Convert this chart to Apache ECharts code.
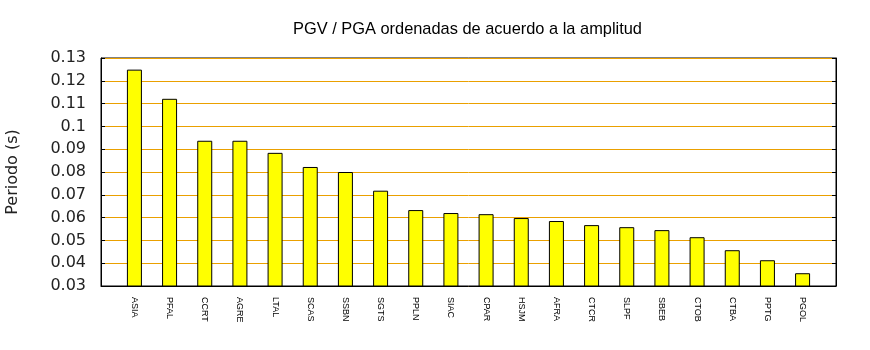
<!DOCTYPE html>
<html>
<head>
<meta charset="utf-8">
<script src="https://cdn.jsdelivr.net/npm/echarts@6/dist/echarts.min.js"></script>
<style>html,body{margin:0;padding:0;background:#fff}#c{width:870px;height:350px}</style>
</head>
<body>
<div id="c"></div>
<script>
const categoryNames = ['ASIA','PFAL','CCRT','AGRE','LTAL','SCAS','SSBN','SGTS','PPLN','SIAC','CPAR','HSJM','AFRA','CTCR','SLPF','SBEB','CTOB','CTBA','PPTG','PGOL'];
const values = [0.1249,0.1121,0.0937,0.0937,0.0884,0.0822,0.0800,0.0718,0.0633,0.0620,0.0615,0.0598,0.0585,0.0567,0.0558,0.0545,0.0514,0.0457,0.0413,0.0356];

const chart = echarts.init(document.getElementById('c'), null, {renderer:'canvas'});
const idx = categoryNames.map((_, i) => i);
chart.setOption({
  animation: false,
  backgroundColor: '#fff',
  title: {
    text: 'PGV / PGA ordenadas de acuerdo a la amplitud',
    left: 288, top: 16,
    textStyle: {fontFamily: 'Liberation Sans', fontSize: 16.4, fontWeight: 'normal', color: '#000'}
  },
  grid: {left: 101, top: 58, width: 735, height: 228, show: true, borderColor: '#000', borderWidth: 1, backgroundColor: 'transparent', outerBoundsMode: 'none', containLabel: false},
  xAxis: {
    type: 'value', min: -0.95, max: categoryNames.length - 0.05,
    axisLine: {show: true, onZero: false, lineStyle: {color: '#000', width: 1}},
    axisTick: {show: false},
    splitLine: {show: false},
    axisLabel: {
      customValues: idx,
      rotate: -90, margin: 11,
      fontFamily: 'Liberation Sans', fontSize: 9, color: '#000',
      formatter: v => categoryNames[Math.round(v)] || ''
    }
  },
  yAxis: [{
    type: 'value', min: 0.03, max: 0.13, interval: 0.01,
    name: 'Periodo (s)', nameLocation: 'middle', nameGap: 80,
    nameTextStyle: {fontFamily: 'DejaVu Sans', fontSize: 16, color: '#222'},
    axisLine: {show: true, onZero: false, lineStyle: {color: '#000'}},
    axisTick: {show: true, inside: true, length: 4, lineStyle: {color: '#000'}},
    splitLine: {show: true, lineStyle: {color: '#eaa000', width: 1}},
    axisLabel: {
      margin: 15, fontFamily: 'DejaVu Sans', fontSize: 16, color: '#222',
      formatter: v => String(+v.toFixed(2))
    }
  }, {
    type: 'value', min: 0.03, max: 0.13, interval: 0.01, position: 'right',
    axisLine: {show: true, onZero: false, lineStyle: {color: '#000'}},
    axisTick: {show: true, inside: true, length: 4, lineStyle: {color: '#000'}},
    splitLine: {show: false},
    axisLabel: {show: false}
  }],
  series: [{
    type: 'bar',
    barWidth: 15,
    data: values.map((v, i) => [i, v]),
    itemStyle: {color: '#ffff00', borderColor: '#000', borderWidth: 1},
    z: 3
  }]
});
</script>
</body>
</html>
